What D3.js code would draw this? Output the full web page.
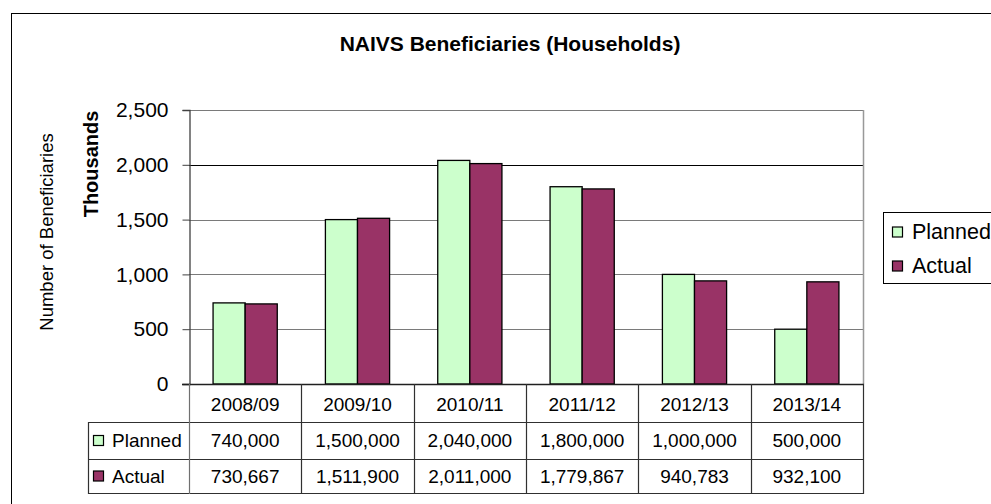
<!DOCTYPE html>
<html>
<head>
<meta charset="utf-8">
<script src="https://cdn.jsdelivr.net/npm/d3@7/dist/d3.min.js"></script>
<style>
  html, body { margin: 0; padding: 0; background: #fff; }
  svg { display: block; font-family: "Liberation Sans", Arial, sans-serif; }
</style>
</head>
<body>
<svg id="chart" width="991" height="504"></svg>
<script>
// Seasons, series and values (households)
const categories = ["2008/09", "2009/10", "2010/11", "2011/12", "2012/13", "2013/14"];
const seriesNames = ["Planned", "Actual"];
const planned = [740000, 1500000, 2040000, 1800000, 1000000, 500000];
const actual = [730667, 1511900, 2011000, 1779867, 940783, 932100];
const yTicks = [0, 500, 1000, 1500, 2000, 2500];
const seriesColors = ["#CCFFCC", "#993366"];

const values = [planned, actual];
const fmt = d3.format(",");

const svg = d3.select("#chart");

// Chart frame
svg.append("rect")
  .attr("x", 11.5).attr("y", 13.5)
  .attr("width", 1100).attr("height", 600)
  .attr("fill", "#fff").attr("stroke", "#000").attr("stroke-width", 1);

// Plot area geometry
const plot = { left: 189, right: 863, top: 110, bottom: 384 };
const table = { labelLeft: 88, rowCat: 422, rowPlanned: 459, rowActual: 493 };

const x = d3.scaleBand().domain(categories).range([plot.left, plot.right]).padding(0);
const xs = d3.scaleBand().domain(seriesNames).range([0, x.bandwidth()]).paddingInner(0).paddingOuter(0.75);
const y = d3.scaleLinear().domain([0, 2500]).range([plot.bottom, plot.top]);

// Title
svg.append("text")
  .attr("x", 510).attr("y", 51)
  .attr("text-anchor", "middle")
  .attr("font-size", 21).attr("font-weight", "bold")
  .attr("fill", "#000")
  .text("NAIVS Beneficiaries (Households)");

// Horizontal gridlines
svg.append("g")
  .selectAll("line")
  .data(yTicks.filter(t => t > 0))
  .join("line")
  .attr("x1", plot.left).attr("x2", plot.right)
  .attr("y1", d => Math.round(y(d)) + 0.5).attr("y2", d => Math.round(y(d)) + 0.5)
  .attr("stroke", d => d === 2000 ? "#000" : "#7a7a7a")
  .attr("stroke-width", 1.2);

// Right edge of the plot area
svg.append("line")
  .attr("x1", plot.right + 0.5).attr("x2", plot.right + 0.5)
  .attr("y1", plot.top).attr("y2", plot.bottom)
  .attr("stroke", "#999").attr("stroke-width", 1.5);

// Bars
const groups = svg.append("g")
  .selectAll("g")
  .data(categories)
  .join("g")
  .attr("transform", d => `translate(${x(d)},0)`);

groups.selectAll("rect")
  .data((c, i) => seriesNames.map((s, k) => ({ series: s, k, value: values[k][i] / 1000 })))
  .join("rect")
  .attr("x", d => xs(d.series))
  .attr("width", xs.bandwidth())
  .attr("y", d => y(d.value))
  .attr("height", d => y(0) - y(d.value))
  .attr("fill", d => seriesColors[d.k])
  .attr("stroke", "#000")
  .attr("stroke-width", 1.3);

// Y axis
const yAxis = d3.axisLeft(y)
  .tickValues(yTicks)
  .tickFormat(fmt)
  .tickSize(7)
  .tickPadding(14);

const gy = svg.append("g")
  .attr("transform", `translate(${plot.left + 0.5},0)`)
  .call(yAxis);
gy.select(".domain").attr("stroke", "#404040").attr("stroke-width", 1.3);
gy.selectAll(".tick line").attr("stroke", "#404040");
gy.selectAll(".tick text")
  .attr("font-size", 21)
  .attr("font-family", "Liberation Sans, Arial, sans-serif")
  .attr("fill", "#000");

// Baseline (value axis zero)
svg.append("line")
  .attr("x1", plot.left - 7).attr("x2", plot.right + 1)
  .attr("y1", plot.bottom + 0.5).attr("y2", plot.bottom + 0.5)
  .attr("stroke", "#202020").attr("stroke-width", 1.3);

// Axis titles
svg.append("text")
  .attr("transform", "translate(98,164) rotate(-90)")
  .attr("text-anchor", "middle")
  .attr("font-size", 20).attr("font-weight", "bold")
  .text("Thousands");

svg.append("text")
  .attr("transform", "translate(53,232) rotate(-90)")
  .attr("text-anchor", "middle")
  .attr("font-size", 18.5)
  .text("Number of Beneficiaries");

// Data table
const tg = svg.append("g");
const lineColor = "#303030";

// horizontal rules
[table.rowCat, table.rowPlanned, table.rowActual].forEach(yy => {
  tg.append("line")
    .attr("x1", table.labelLeft).attr("x2", plot.right + 1)
    .attr("y1", yy + 0.5).attr("y2", yy + 0.5)
    .attr("stroke", lineColor).attr("stroke-width", 1.2);
});

// vertical rules at category boundaries
const bounds = categories.map(c => x(c)).concat([plot.right]);
tg.selectAll("line.vb")
  .data(bounds)
  .join("line")
  .attr("class", "vb")
  .attr("x1", d => Math.round(d) + 0.5).attr("x2", d => Math.round(d) + 0.5)
  .attr("y1", plot.bottom).attr("y2", table.rowActual + 1)
  .attr("stroke", (d, i) => i === 0 ? "#707070" : lineColor)
  .attr("stroke-width", 1.2);

// left edge of the row-label column
tg.append("line")
  .attr("x1", table.labelLeft + 0.5).attr("x2", table.labelLeft + 0.5)
  .attr("y1", table.rowCat).attr("y2", table.rowActual + 1)
  .attr("stroke", lineColor).attr("stroke-width", 1.2);

// category labels
tg.selectAll("text.cat")
  .data(categories)
  .join("text")
  .attr("class", "cat")
  .attr("x", d => x(d) + x.bandwidth() / 2)
  .attr("y", (plot.bottom + table.rowCat) / 2 + 1)
  .attr("text-anchor", "middle")
  .attr("dominant-baseline", "central")
  .attr("font-size", 19)
  .text(d => d);

// value rows
const rowCenters = [(table.rowCat + table.rowPlanned) / 2, (table.rowPlanned + table.rowActual) / 2];
seriesNames.forEach((s, k) => {
  tg.selectAll(`text.v${k}`)
    .data(values[k])
    .join("text")
    .attr("class", `v${k}`)
    .attr("x", (d, i) => x(categories[i]) + x.bandwidth() / 2)
    .attr("y", rowCenters[k])
    .attr("text-anchor", "middle")
    .attr("dominant-baseline", "central")
    .attr("font-size", 19)
    .text(d => fmt(d));

  // row label with key
  tg.append("rect")
    .attr("x", 93.5).attr("y", rowCenters[k] - 5)
    .attr("width", 10).attr("height", 10)
    .attr("fill", seriesColors[k]).attr("stroke", "#000").attr("stroke-width", 1.2);
  tg.append("text")
    .attr("x", 112).attr("y", rowCenters[k])
    .attr("dominant-baseline", "central")
    .attr("font-size", 19)
    .text(s);
});

// Legend
const lg = svg.append("g");
lg.append("rect")
  .attr("x", 883.5).attr("y", 212.5)
  .attr("width", 200).attr("height", 71)
  .attr("fill", "#fff").attr("stroke", "#000").attr("stroke-width", 1);
const legendRows = [232, 266];
seriesNames.forEach((s, k) => {
  lg.append("rect")
    .attr("x", 892.5).attr("y", legendRows[k] - 5)
    .attr("width", 10).attr("height", 10)
    .attr("fill", seriesColors[k]).attr("stroke", "#000").attr("stroke-width", 1.2);
  lg.append("text")
    .attr("x", 912).attr("y", legendRows[k])
    .attr("dominant-baseline", "central")
    .attr("font-size", 21.5)
    .text(s);
});
</script>
</body>
</html>
